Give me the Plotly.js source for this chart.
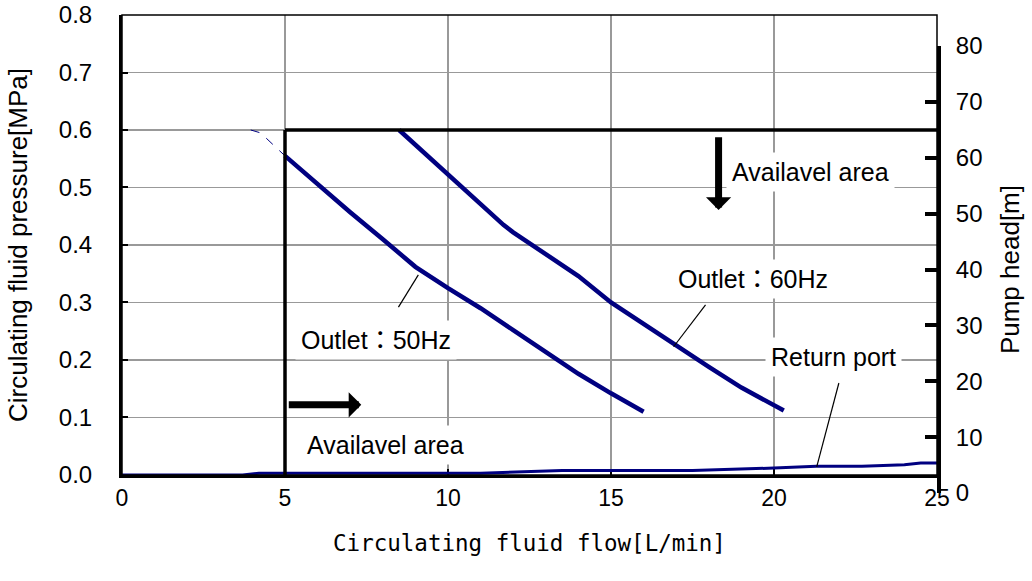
<!DOCTYPE html>
<html>
<head>
<meta charset="utf-8">
<script src="https://cdn.plot.ly/plotly-3.0.1.min.js"></script>
<style>html,body{margin:0;padding:0;background:#fff;}#chart{width:1032px;height:581px;}</style>
</head>
<body>
<div id="chart"></div>
<script>
// ---- data ----
const flow50 = [5, 6, 7, 8, 9, 10, 11, 12, 13, 14, 15, 16];
const pres50 = [0.555, 0.505, 0.457, 0.41, 0.362, 0.325, 0.29, 0.252, 0.213, 0.176, 0.142, 0.11];
const flow60 = [8.5, 9, 10, 11, 11.7, 12, 13, 14, 15, 16, 17, 18, 19, 20.3];
const pres60 = [0.6, 0.574, 0.522, 0.471, 0.435, 0.422, 0.384, 0.346, 0.3, 0.262, 0.225, 0.188, 0.152, 0.112];
const flowExt = [3.95, 4.25, 5];
const presExt = [0.6, 0.595, 0.555];
const flowRet = [0, 3.7, 4.2, 11, 13.5, 17.5, 20, 21.3, 22.7, 24, 24.5, 25];
const presRet = [0, 0, 0.003, 0.003, 0.008, 0.008, 0.012, 0.015, 0.015, 0.018, 0.021, 0.021];
const xTicks = [0, 5, 10, 15, 20, 25];
const yTicks = [0, 0.1, 0.2, 0.3, 0.4, 0.5, 0.6, 0.7, 0.8];
const headTicks = [0, 10, 20, 30, 40, 50, 60, 70, 80];
const labels = {
  x: 'Circulating fluid flow[L/min]',
  y: 'Circulating fluid pressure[MPa]',
  y2: 'Pump head[m]',
  area: 'Availavel area',
  o60: 'Outlet：60Hz',
  o50: 'Outlet：50Hz',
  ret: 'Return port'
};
const availFlow = 5, availPres = 0.6;

const navy = '#000080';
const F = 'Liberation Sans, Arial, Noto Sans CJK JP, sans-serif';

const traces = [
  {x: flowExt, y: presExt, mode: 'lines', line: {color: navy, width: 1, dash: 'dash'}, hoverinfo: 'skip', showlegend: false},
  {x: flow50, y: pres50, mode: 'lines', line: {color: navy, width: 4.5}, showlegend: false},
  {x: flow60, y: pres60, mode: 'lines', line: {color: navy, width: 4.5}, showlegend: false},
  {x: flowRet, y: presRet, mode: 'lines', line: {color: navy, width: 3}, cliponaxis: false, showlegend: false},
  {x: [null], y: [null], xaxis: 'x2', yaxis: 'y2', mode: 'lines', showlegend: false, hoverinfo: 'skip'}
];

function ann(text, x, y) {
  return {text: text, x: x, y: y, xref: 'x', yref: 'y', showarrow: false,
          font: {family: F, size: 25, color: '#000'}, bgcolor: '#fff', borderpad: 5};
}
function arrow(x, y, ax, ay) {
  return {text: '', x: x, y: y, ax: ax, ay: ay, xref: 'x', yref: 'y', axref: 'x', ayref: 'y',
          showarrow: true, arrowhead: 1, arrowsize: 0.6, arrowwidth: 7, arrowcolor: '#000'};
}
function seg(x0, y0, x1, y1, w) {
  return {type: 'line', xref: 'x', yref: 'y', x0: x0, y0: y0, x1: x1, y1: y1,
          line: {color: '#000', width: w}};
}

const layout = {
  width: 1032, height: 581,
  margin: {l: 122, r: 95, t: 15, b: 88},
  paper_bgcolor: '#fff', plot_bgcolor: 'rgba(0,0,0,0)',
  font: {family: F, size: 24, color: '#000'},
  showlegend: false,
  xaxis: {
    range: [0, 25], tickvals: xTicks, ticks: 'inside', ticklen: 6, tickwidth: 2, tickcolor: '#000',
    showline: true, linewidth: 3, linecolor: '#000', showgrid: true, gridcolor: '#999', gridwidth: 1.5,
    zeroline: false, layer: 'below traces', anchor: 'y',
    tickfont: {family: F, size: 23}, ticklabelstandoff: 0,
    title: {text: labels.x, font: {family: 'DejaVu Sans Mono, monospace', size: 22.5}, standoff: 26}
  },
  yaxis: {
    range: [0, 0.8], tickvals: yTicks, tickformat: '.1f', ticks: 'inside', ticklen: 6, tickwidth: 2, tickcolor: '#000',
    showline: true, linewidth: 3, linecolor: '#000', showgrid: true, gridcolor: '#999', gridwidth: 1.5,
    zeroline: false, layer: 'below traces', domain: [0.0377, 1],
    tickfont: {family: F, size: 24}, ticklabelstandoff: 22,
    title: {text: labels.y, font: {family: F, size: 26}, standoff: 24}
  },
  xaxis2: {visible: false, domain: [0.98, 1], anchor: 'y2', range: [0, 1]},
  yaxis2: {
    range: [0, 80], tickvals: headTicks, anchor: 'x2', side: 'right', domain: [0, 0.935],
    ticks: 'inside', ticklen: 12, tickwidth: 4, tickcolor: '#000',
    showline: true, linewidth: 4, linecolor: '#000', showgrid: false, zeroline: false,
    tickfont: {family: F, size: 24}, ticklabelstandoff: 10,
    title: {text: labels.y2, font: {family: F, size: 26}, standoff: 20}
  },
  shapes: [
    {type: 'rect', xref: 'x domain', yref: 'y domain', x0: 0, x1: 1, y0: 0, y1: 1,
     line: {color: '#000', width: 1.5}, layer: 'above'},
    seg(availFlow, 0, availFlow, availPres, 3.5),
    seg(availFlow, availPres, 25, availPres, 3.5),
    seg(8.48, 0.292, 9.09, 0.348, 1.2),
    seg(16.92, 0.223, 17.9, 0.296, 1.2),
    seg(21.99, 0.16, 21.31, 0.014, 1.2)
  ],
  annotations: [
    ann(labels.area, 21.13, 0.527),
    ann(labels.o60, 19.35, 0.341),
    ann(labels.o50, 7.8, 0.235),
    ann(labels.ret, 21.84, 0.205),
    ann(labels.area, 8.08, 0.052),
    arrow(18.3, 0.461, 18.3, 0.59),
    arrow(7.34, 0.122, 5.07, 0.122)
  ]
};

Plotly.newPlot('chart', traces, layout, {displayModeBar: false, staticPlot: true});
</script>
</body>
</html>
